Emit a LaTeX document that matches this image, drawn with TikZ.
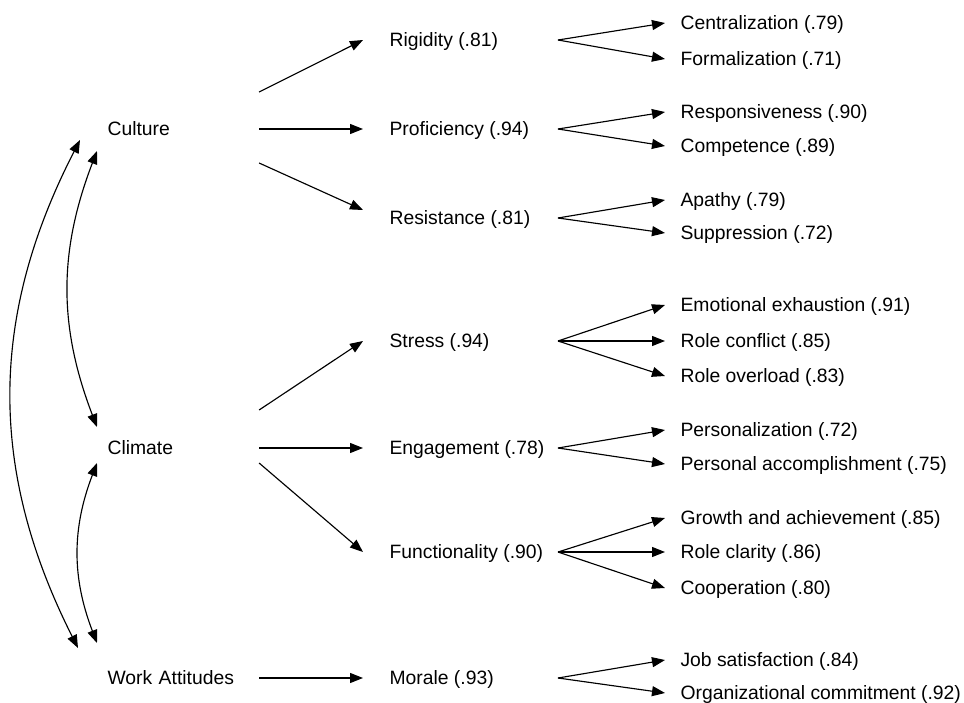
\documentclass[tikz,border=0pt]{standalone}
\usepackage{fontspec}
\setmainfont{Liberation Sans}
\usetikzlibrary{calc, arrows.meta}

\begin{document}
\begin{tikzpicture}[x=0.02cm, y=-0.02cm, line width=0.65pt,
    font=\fontsize{11}{13}\selectfont,
    every node/.style={anchor=west, inner ysep=1pt, text height=0.9em, text depth=0.2em},
    factornode/.style={inner xsep=0pt, text width=3.02cm, align=left},
    dimnode/.style={inner xsep=0.52cm},
    itemnode/.style={inner xsep=0.3cm},
    arr/.style={-{Triangle[length=0.26cm, width=0.2cm]}},
    twoway/.style={{Triangle[length=0.26cm, width=0.2cm]}-{Triangle[length=0.26cm, width=0.2cm]}}]
  \useasboundingbox (0,0) rectangle (964,703);

  \node[factornode] (culture) at (107,129) {Culture};
  \node[factornode] (climate) at (107,448) {Climate};
  \node[factornode] (attitudes) at (107,678) {Work Attitudes};

  \node[dimnode] (rigidity) at (363,40) {Rigidity (.81)};
  \node[dimnode] (proficiency) at (363,129) {Proficiency (.94)};
  \node[dimnode] (resistance) at (363,218) {Resistance (.81)};
  \node[dimnode] (stress) at (363,341) {Stress (.94)};
  \node[dimnode] (engagement) at (363,448) {Engagement (.78)};
  \node[dimnode] (functionality) at (363,552) {Functionality (.90)};
  \node[dimnode] (morale) at (363,678) {Morale (.93)};

  \node[itemnode] (centralization) at (665,23) {Centralization (.79)};
  \node[itemnode] (formalization) at (665,59) {Formalization (.71)};
  \node[itemnode] (responsiveness) at (665,112) {Responsiveness (.90)};
  \node[itemnode] (competence) at (665,146) {Competence (.89)};
  \node[itemnode] (apathy) at (665,200) {Apathy (.79)};
  \node[itemnode] (suppression) at (665,233) {Suppression (.72)};
  \node[itemnode] (exhaustion) at (665,305) {Emotional exhaustion (.91)};
  \node[itemnode] (conflict) at (665,341) {Role conflict (.85)};
  \node[itemnode] (overload) at (665,376) {Role overload (.83)};
  \node[itemnode] (personalization) at (665,430) {Personalization (.72)};
  \node[itemnode] (accomplishment) at (665,464) {Personal accomplishment (.75)};
  \node[itemnode] (growth) at (665,518) {Growth and achievement (.85)};
  \node[itemnode] (clarity) at (665,552) {Role clarity (.86)};
  \node[itemnode] (cooperation) at (665,588) {Cooperation (.80)};
  \node[itemnode] (satisfaction) at (665,660) {Job satisfaction (.84)};
  \node[itemnode] (commitment) at (665,693) {Organizational commitment (.92)};

  \draw[arr] ($(culture.east)+(0,-37)$) -- (rigidity.west);
  \draw[arr] (culture.east) -- (proficiency.west);
  \draw[arr] ($(culture.east)+(0,34)$) -- ($(resistance.west)+(0,-8)$);
  \draw[arr] ($(climate.east)+(0,-38)$) -- (stress.west);
  \draw[arr] (climate.east) -- (engagement.west);
  \draw[arr] ($(climate.east)+(0,15)$) -- (functionality.west);
  \draw[arr] (attitudes.east) -- (morale.west);

  \foreach \d in {rigidity, proficiency, resistance, stress, engagement, functionality, morale}
    \coordinate (\d-fork) at ($(\d.west)+(195,0)$);

  \foreach \d/\i in {rigidity/centralization, rigidity/formalization,
      proficiency/responsiveness, proficiency/competence,
      resistance/apathy, resistance/suppression,
      stress/exhaustion, stress/conflict, stress/overload,
      engagement/personalization, engagement/accomplishment,
      functionality/growth, functionality/clarity, functionality/cooperation,
      morale/satisfaction, morale/commitment}
    \draw[arr] (\d-fork) -- (\i.west);

  \draw[twoway] ($(culture.west)+(-27,11)$) to[bend right=27] ($(attitudes.west)+(-29,-30)$);
  \draw[twoway] ($(culture.west)+(-10,22)$) to[bend right=21] ($(climate.west)+(-10,-21)$);
  \draw[twoway] ($(climate.west)+(-10,15)$) to[bend right=21] ($(attitudes.west)+(-10,-35)$);
\end{tikzpicture}
\end{document}
